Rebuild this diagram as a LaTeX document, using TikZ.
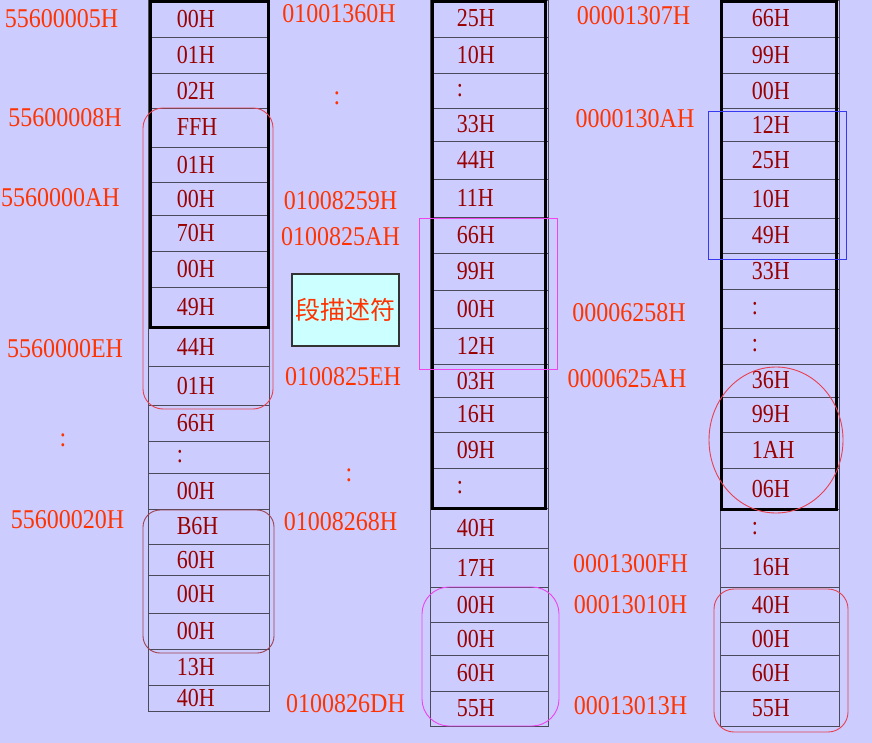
\documentclass[tikz,border=0pt]{standalone}
\usepackage{graphicx}
\usepackage{fontspec}
\setmainfont{Liberation Serif}
\newfontfamily\cjk{Noto Sans CJK SC}
\newcommand{\tallv}[1]{\scalebox{1}[1.18]{#1}}
\newcommand{\talla}[1]{\scalebox{1}[1.13]{#1}}
\definecolor{bg}{HTML}{CCCCFF}
\definecolor{labc}{HTML}{FF3300}
\definecolor{valc}{HTML}{990000}
\definecolor{gridc}{HTML}{4A4A5A}
\definecolor{hred}{HTML}{E8404F}
\definecolor{hbrown}{HTML}{A0404F}
\definecolor{hmag}{HTML}{EE44EE}
\definecolor{hblue}{HTML}{3838F0}
\definecolor{descfill}{HTML}{CCFFFF}
\begin{document}
\begin{tikzpicture}[x=1pt,y=-1pt,
  cell/.style={draw=gridc, line width=0.8pt, inner sep=0pt},
  val/.style={text=valc, inner sep=0pt, anchor=west, font=\fontsize{22}{26}\selectfont},
  addr/.style={text=labc, inner sep=0pt, font=\fontsize{24}{28}\selectfont},
  frame/.style={draw=black, line width=3pt},
  hl/.style={line width=0.9pt}
]
\fill[bg] (0,0) rectangle (872,743);
\useasboundingbox (0,0) rectangle (872,743);

% column 1
\foreach \yt/\yb/\vv [count=\i] in {0/37/00H,37/73/01H,73/108/02H,108/147/FFH,147/182/01H,182/215/00H,215/251/70H,251/287/00H,287/328/49H,328/366/44H,366/405/01H,405/441/66H,441/473/:,473/509/00H,509/544/B6H,544/575/60H,575/613/00H,613/649/00H,649/685/13H,685/711/40H}{
  \node[cell, minimum width=120.5pt, minimum height={(\yb-\yt)*1pt}] (a\i) at (208.75,{(\yt+\yb)/2}) {};
  \node[val] (va\i) at ([xshift=28.5pt]a\i.west) {\tallv{\vv}};
}
% column 2
\foreach \yt/\yb/\vv [count=\i] in {0/37/25H,37/73/10H,73/108/:,108/141/33H,141/179/44H,179/217/11H,217/253/66H,253/290/99H,290/328/00H,328/364/12H,364/397/03H,397/432/16H,432/468/09H,468/508/:,508/548/40H,548/587/17H,587/622/00H,622/655/00H,655/691/60H,691/726/55H}{
  \node[cell, minimum width=117.5pt, minimum height={(\yb-\yt)*1pt}] (b\i) at (489.25,{(\yt+\yb)/2}) {};
  \node[val] (vb\i) at ([xshift=26.5pt]b\i.west) {\tallv{\vv}};
}
% column 3
\foreach \yt/\yb/\vv [count=\i] in {0/37/66H,37/73/99H,73/108/00H,108/141/12H,141/179/25H,179/218/10H,218/253/49H,253/289/33H,289/328/:,328/364/:,364/397/36H,397/432/99H,432/468/1AH,468/509/06H,509/548/:,548/587/16H,587/622/40H,622/655/00H,655/691/60H,691/726/55H}{
  \node[cell, minimum width=118.5pt, minimum height={(\yb-\yt)*1pt}] (c\i) at (779.75,{(\yt+\yb)/2}) {};
  \node[val] (vc\i) at ([xshift=31.5pt]c\i.west) {\tallv{\vv}};
}

% thick frames
\draw[frame] (150.5,1.5) rectangle (268.5,327.3);
\draw[frame] (432.3,1.5) rectangle (545.7,508.7);
\draw[frame] (721,1.5) rectangle (836.7,509.3);

% address labels, column 1
\node[addr] (l11) at (61.5,19) {\talla{55600005H}};
\node[addr] (l12) at (65,117.5) {\talla{55600008H}};
\node[addr] (l13) at (60.5,197.5) {\talla{5560000AH}};
\node[addr] (l14) at (65,349) {\talla{5560000EH}};
\node[addr] (l15) at (63,440) {\talla{:}};
\node[addr] (l16) at (67.5,519.5) {\talla{55600020H}};
% column 2
\node[addr] (l21) at (339,14) {\talla{01001360H}};
\node[addr] (l22) at (337,98) {\talla{:}};
\node[addr] (l23) at (340.5,200.5) {\talla{01008259H}};
\node[addr] (l24) at (340.5,237) {\talla{0100825AH}};
\node[addr] (l25) at (343,376.5) {\talla{0100825EH}};
\node[addr] (l26) at (349,475) {\talla{:}};
\node[addr] (l27) at (340.5,522) {\talla{01008268H}};
\node[addr] (l28) at (345.5,704) {\talla{0100826DH}};
% column 3
\node[addr] (l31) at (633.5,16) {\talla{00001307H}};
\node[addr] (l32) at (635,118.5) {\talla{0000130AH}};
\node[addr] (l33) at (629,313) {\talla{00006258H}};
\node[addr] (l34) at (627,379) {\talla{0000625AH}};
\node[addr] (l35) at (630.5,564) {\talla{0001300FH}};
\node[addr] (l36) at (630.5,604.5) {\talla{00013010H}};
\node[addr] (l37) at (630.5,706) {\talla{00013013H}};

% descriptor box
\node[draw=black!80, line width=1.3pt, fill=descfill, minimum width=107pt, minimum height=72pt, inner sep=0pt, text=labc, font=\cjk\fontsize{25}{28}\selectfont] (desc) at (345.5,310) {段描述符};

% highlights
\draw[hl, hred, rounded corners=20pt] (143,108) rectangle (273,409);
\draw[hl, hbrown, rounded corners=17pt] (143,510) rectangle (274,653);
\draw[hl, hmag] (419,218) rectangle (557,369);
\draw[hl, hmag, rounded corners=27pt] (422,587) rectangle (559,726);
\draw[hl, hblue] (708,111) rectangle (846,259);
\draw[hl, hred] (776,440) ellipse [x radius=67pt, y radius=73pt];
\draw[hl, hred, rounded corners=20pt] (714,589) rectangle (848,732);
\end{tikzpicture}
\end{document}
